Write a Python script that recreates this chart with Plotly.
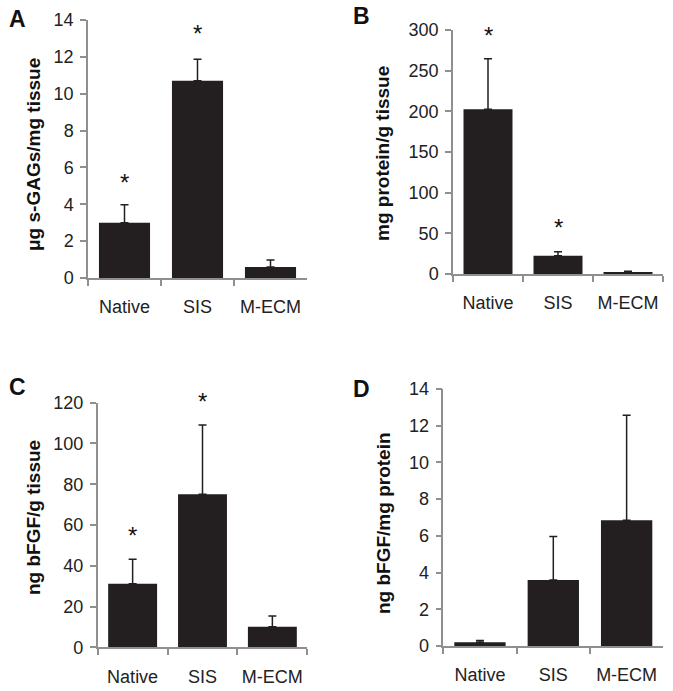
import plotly.graph_objects as go

categories = ["Native", "SIS", "M-ECM"]

gag_mean = [3.0, 10.7, 0.6]
gag_err = [0.97, 1.17, 0.37]
gag_star = [5.3, 13.37, None]

protein_mean = [202.5, 22.3, 1.5]
protein_err = [62.0, 5.2, 2.0]
protein_star = [296, 60, None]

bfgf_tissue_mean = [31.2, 75.1, 10.1]
bfgf_tissue_err = [12.0, 34.0, 5.3]
bfgf_tissue_star = [55.9, 121.7, None]

bfgf_protein_mean = [0.2, 3.6, 6.85]
bfgf_protein_err = [0.1, 2.37, 5.72]
bfgf_protein_star = [None, None, None]

titles = ["μg s-GAGs/mg tissue", "mg protein/g tissue",
          "ng bFGF/g tissue", "ng bFGF/mg protein"]
letters = ["A", "B", "C", "D"]
yranges = [[0, 14], [0, 300], [0, 120], [0, 14]]
ydticks = [2, 50, 20, 2]

W, H = 673, 691
# panel pixel boxes: x0, x1, ytop, ybottom
boxes = [(88, 307, 20, 278), (453, 663, 30, 274),
         (97.7, 307.3, 402.7, 647.3), (443.3, 663.3, 389, 646)]
title_pos = [(33, 155), (383, 154), (33, 518), (383, 523)]
letter_pos = [(17, 19), (361, 16), (17, 387), (361, 389)]

BAR = "#231f20"
AX = "#8f8f8f"
FONT = "Liberation Sans, Arial, sans-serif"

means = [gag_mean, protein_mean, bfgf_tissue_mean, bfgf_protein_mean]
errs = [gag_err, protein_err, bfgf_tissue_err, bfgf_protein_err]
stars = [gag_star, protein_star, bfgf_tissue_star, bfgf_protein_star]

fig = go.Figure()
layout = dict(width=W, height=H, margin=dict(l=0, r=0, t=0, b=0),
              autosize=False,
              paper_bgcolor="white", plot_bgcolor="white",
              showlegend=False, font=dict(family=FONT, color="#222"))
annotations = []
for i in range(4):
    sfx = "" if i == 0 else str(i + 1)
    x0, x1, yt, yb = boxes[i]
    fig.add_trace(go.Bar(
        x=categories, y=means[i], xaxis="x" + sfx, yaxis="y" + sfx,
        marker=dict(color=BAR, line=dict(width=0)), width=0.7,
        error_y=dict(type="data", array=errs[i], arrayminus=[0, 0, 0],
                     symmetric=False, color=BAR, thickness=1.5, width=4),
        hoverinfo="skip"))
    ymax = yranges[i][1]
    for c, s in zip(categories, stars[i]):
        if s is not None:
            annotations.append(dict(
                x=c, y=s / ymax, xref="x" + sfx, yref="y" + sfx + " domain",
                text="*", showarrow=False, yanchor="middle", yshift=-2,
                font=dict(size=24, color="#111", family=FONT)))
    layout["xaxis" + sfx] = dict(
        domain=[x0 / W, x1 / W], anchor="y" + sfx, type="category",
        range=[-0.5, 2.5], showline=True, linecolor=AX, linewidth=1.5,
        ticks="outside", tickson="boundaries", ticklen=6, tickcolor=AX,
        tickwidth=1.5, tickfont=dict(size=18, family=FONT, color="#222"),
        tickangle=0, automargin=False,
        ticklabelstandoff=12, showgrid=False, zeroline=False, fixedrange=True)
    layout["yaxis" + sfx] = dict(
        domain=[1 - yb / H, 1 - yt / H], anchor="x" + sfx,
        range=yranges[i], dtick=ydticks[i], showline=True, linecolor=AX,
        linewidth=1.5, ticks="outside", ticklen=6, tickcolor=AX, tickwidth=1.5,
        tickfont=dict(size=18, family=FONT, color="#222"), automargin=False,
        ticklabelstandoff=3, showgrid=False, zeroline=False, fixedrange=True)
    tx, ty = title_pos[i]
    annotations.append(dict(x=tx / W, y=1 - ty / H, xref="paper", yref="paper",
                            text="<b>" + titles[i] + "</b>", textangle=-90,
                            showarrow=False, xanchor="center", yanchor="middle",
                            font=dict(size=19, family=FONT, color="#111")))
    lx, ly = letter_pos[i]
    annotations.append(dict(x=lx / W, y=1 - ly / H, xref="paper", yref="paper",
                            text="<b>" + letters[i] + "</b>", showarrow=False,
                            xanchor="center", yanchor="middle",
                            font=dict(size=23, family=FONT, color="#111")))

layout["annotations"] = annotations
fig.update_layout(**layout)
fig.write_html("out.html", config={"displayModeBar": False},
               post_script="document.body.style.margin='0';"
                           "document.body.style.overflow='hidden';")
